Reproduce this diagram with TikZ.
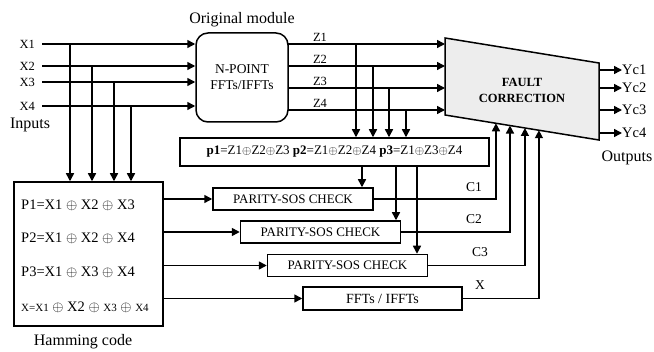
\documentclass[tikz,border=0pt]{standalone}
\usepackage{fontspec}
\setmainfont{Liberation Serif}
\usetikzlibrary{arrows.meta,calc}
\newcommand{\fsz}[2]{\fontsize{#1}{#2}\selectfont}

\begin{document}
\begin{tikzpicture}[x=1pt,y=-1pt,
    wire/.style={line width=1.5pt},
    arr/.style={wire,-{Triangle[length=8pt,width=8pt]}},
    box/.style={draw,line width=1.5pt,inner sep=0pt},
    chkbox/.style={box,minimum width=160pt,minimum height=22pt,font=\fsz{13}{13}},
    lbl/.style={inner sep=0pt,font=\fsz{12.5}{12.5}}]
    \useasboundingbox (0,0) rectangle (654,352);

    % blocks
    \node[box,rounded corners=12pt,minimum width=92pt,minimum height=89pt,
          align=center,font=\fsz{13.5}{16}] (module) at (242,77.5) {N-POINT\\FFTs/IFFTs};
    \node[lbl,font=\fsz{16}{16}] (modtitle) at (242,20) {Original module};
    \node[box,minimum width=149pt,minimum height=144pt] (hamming) at (88.5,254) {};
    \node[lbl,font=\fsz{16}{16}] (hamtitle) at (83,342) {Hamming code};
    \node[lbl,anchor=west,font=\fsz{14.5}{14.5}] (hp1) at (21,205) {P1=X1 ${\oplus}$ X2 ${\oplus}$ X3};
    \node[lbl,anchor=west,font=\fsz{14.5}{14.5}] (hp2) at (21,238) {P2=X1 ${\oplus}$ X2 ${\oplus}$ X4};
    \node[lbl,anchor=west,font=\fsz{14.5}{14.5}] (hp3) at (21,272) {P3=X1 ${\oplus}$ X3 ${\oplus}$ X4};
    \node[lbl,anchor=west,font=\fsz{14.5}{14.5}] (hpx) at (21,307)
        {{\fsz{11}{11}X=X1} ${\oplus}$ X2 ${\oplus}$ {\fsz{11}{11}X3} ${\oplus}$ {\fsz{11}{11}X4}};
    \node[box,minimum width=309pt,minimum height=28pt,font=\fsz{13}{13}] (parity) at (334.5,152)
        {\textbf{p1}=Z1${\oplus}$Z2${\oplus}$Z3 \textbf{p2}=Z1${\oplus}$Z2${\oplus}$Z4 \textbf{p3}=Z1${\oplus}$Z3${\oplus}$Z4};
    \node[chkbox] (check1) at (293,199) {PARITY-SOS CHECK};
    \node[chkbox] (check2) at (320.5,232) {PARITY-SOS CHECK};
    \node[chkbox] (check3) at (347.5,265.5) {PARITY-SOS CHECK};
    \node[chkbox,minimum width=159pt,minimum height=23pt,font=\fsz{14}{14}] (fft) at (382.5,298.5) {FFTs / IFFTs};

    % fault correction
    \coordinate (ftl) at (445,38);
    \coordinate (ftr) at (599,63);
    \coordinate (fbr) at (599,140);
    \coordinate (fbl) at (445,115);
    \draw[line width=1.5pt,fill=black!7] (ftl) -- (ftr) -- (fbr) -- (fbl) -- cycle;
    \node[align=center,font=\bfseries\fsz{12.5}{16}] (fault) at (522,90) {FAULT\\CORRECTION};

    % inputs
    \foreach \n/\y/\t in {1/44/70,2/66/92,3/82/114,4/106/131} {
        \node[lbl,anchor=east] (x\n) at (35,\y) {X\n};
        \draw[arr,shorten <=7pt] (x\n) -- (module.west |- x\n);
        \coordinate (tx\n) at (\t,\y);
        \draw[arr] (tx\n) -- (tx\n |- hamming.north);
    }
    \node[lbl,font=\fsz{16}{16}] (inputs) at (30,125) {Inputs};

    % module outputs
    \foreach \n/\y/\t in {1/44/356,2/66/373,3/88/389,4/110/406} {
        \coordinate (zs\n) at (288,\y);
        \draw[arr] (zs\n) -- (zs\n -| ftl);
        \node[lbl,anchor=south] (z\n) at (320,\y-2) {Z\n};
        \coordinate (tz\n) at (\t,\y);
        \draw[arr] (tz\n) -- (tz\n |- parity.north);
    }

    % parity to checks
    \foreach \n/\t in {1/362,2/396,3/417}
        \draw[arr] (parity.south -| \t,0) -- (check\n.north -| \t,0);

    % hamming to checks
    \foreach \n in {check1,check2,check3,fft}
        \draw[arr] (hamming.east |- \n) -- (\n.west);

    % feedback to fault correction
    \foreach \n/\t in {check1/0.331,check2/0.422,check3/0.519,fft/0.610} {
        \coordinate (fb) at ($(fbl)!\t!(fbr)$);
        \draw[arr] (\n.east) -| (fb);
    }
    \node[lbl,font=\fsz{13.5}{13.5}] (c1) at (474,187) {C1};
    \node[lbl,font=\fsz{13.5}{13.5}] (c2) at (474,219) {C2};
    \node[lbl,font=\fsz{13.5}{13.5}] (c3) at (480,252) {C3};
    \node[lbl,font=\fsz{13.5}{13.5}] (cx) at (480,285) {X};

    % outputs
    \foreach \n/\y in {1/70,2/88,3/110,4/133} {
        \coordinate (yo\n) at (599,\y);
        \node[lbl,anchor=west,font=\fsz{14.5}{14.5}] (yc\n) at (622,\y) {Yc\n};
        \draw[arr] (yo\n) -- (yc\n.west);
    }
    \node[lbl,font=\fsz{16}{16}] (outputs) at (627,158) {Outputs};
\end{tikzpicture}
\end{document}
